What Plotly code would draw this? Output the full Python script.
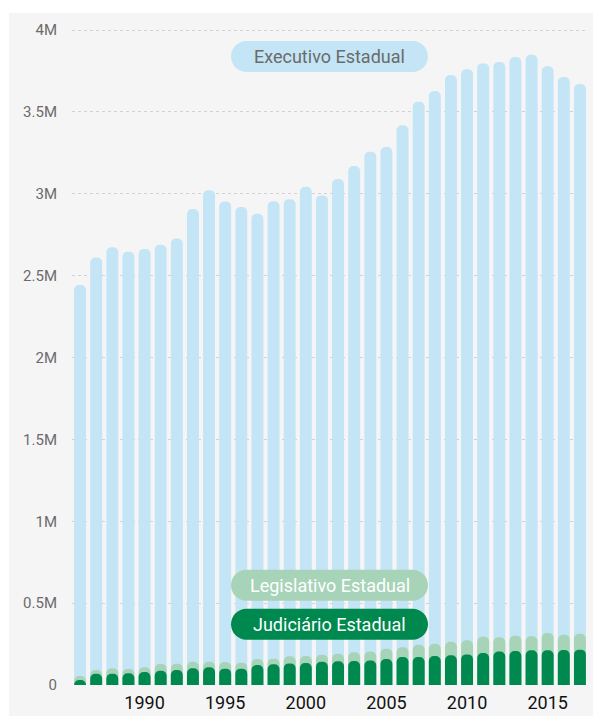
import plotly.graph_objects as go

years = list(range(1986, 2018))
executivo = [2.443, 2.610, 2.673, 2.646, 2.663, 2.689, 2.726, 2.907, 3.021, 2.952,
             2.919, 2.878, 2.954, 2.966, 3.042, 2.990, 3.090, 3.169, 3.257, 3.285,
             3.418, 3.562, 3.627, 3.725, 3.760, 3.796, 3.805, 3.835, 3.849, 3.778,
             3.713, 3.670]
legislativo = [0.055, 0.092, 0.102, 0.098, 0.108, 0.128, 0.130, 0.142, 0.142, 0.140,
               0.136, 0.159, 0.161, 0.175, 0.177, 0.185, 0.191, 0.200, 0.204, 0.222,
               0.230, 0.246, 0.252, 0.264, 0.273, 0.295, 0.291, 0.301, 0.297, 0.318,
               0.307, 0.313]
judiciario = [0.031, 0.069, 0.069, 0.071, 0.079, 0.087, 0.092, 0.102, 0.108, 0.100,
              0.100, 0.122, 0.126, 0.132, 0.134, 0.142, 0.145, 0.147, 0.149, 0.159,
              0.171, 0.171, 0.177, 0.181, 0.187, 0.195, 0.205, 0.208, 0.212, 0.212,
              0.214, 0.216]

series_names = ["Executivo Estadual", "Legislativo Estadual", "Judiciário Estadual"]
series_colors = ["#c3e5f5", "#a7d4b9", "#00894f"]
label_text_colors = ["#6b6b6b", "#ffffff", "#ffffff"]

y_tickvals = [0, 0.5e6, 1e6, 1.5e6, 2e6, 2.5e6, 3e6, 3.5e6, 4e6]
y_ticktext = ["0", "0.5M", "1M", "1.5M", "2M", "2.5M", "3M", "3.5M", "4M"]
x_tickvals = [1990, 1995, 2000, 2005, 2010, 2015]

FONT = "Roboto"
XRANGE = [1985.5, 2017.5]

fig = go.Figure()
# each series on its own overlaid x axis so every bar gets its own rounded top
axis_ids = ["x", "x2", "x3"]
for name, vals, col, xa in zip(series_names, [executivo, legislativo, judiciario],
                               series_colors, axis_ids):
    fig.add_trace(go.Bar(
        x=years, y=[v * 1e6 for v in vals], name=name, xaxis=xa, yaxis="y",
        marker=dict(color=col, line=dict(width=0), cornerradius="50%"),
        width=0.74, hoverinfo="x+y",
    ))

# page body has an 8px margin, so the figure is offset by 8px
OFF = 8
W, H = 601 - OFF, 716 - OFF
EXTRA = 3  # px of headroom above the 4M gridline
L, T = 72 - OFF, 30 - OFF - EXTRA
plot_right, plot_bottom = 588 - OFF, 685 - OFF
R, B = W - plot_right, H - plot_bottom
pw, ph = plot_right - L, plot_bottom - T
YMAX = 4e6 * ph / (ph - EXTRA)

shapes = [dict(type="rect", xref="paper", yref="paper",
               x0=(9 - OFF - L) / pw, x1=(W + 5 - L) / pw,
               y0=-(B + 5) / ph, y1=(plot_bottom - (13 - OFF)) / ph,
               fillcolor="#f5f5f5", line=dict(width=0), layer="below")]

# pill labels
hw, r = 98.5, 15.5
k = 0.5523 * r
c = hw - r
pill = (f"M {-c},{-r} L {c},{-r} C {c + k},{-r} {hw},{-k} {hw},0 "
        f"C {hw},{k} {c + k},{r} {c},{r} L {-c},{r} "
        f"C {-c - k},{r} {-hw},{k} {-hw},0 C {-hw},{-k} {-c - k},{-r} {-c},{-r} Z")

pill_centers_px = [56.5, 585.3, 624.3]
pill_cx = (329.5 - OFF - L) / pw
annotations = []
for name, col, tcol, cy in zip(series_names, series_colors, label_text_colors, pill_centers_px):
    yf = (plot_bottom - (cy - OFF)) / ph
    shapes.append(dict(type="path", xref="paper", yref="paper",
                       xsizemode="pixel", ysizemode="pixel",
                       xanchor=pill_cx, yanchor=yf, path=pill,
                       fillcolor=col, line=dict(width=0), layer="above"))
    annotations.append(dict(xref="paper", yref="paper", x=pill_cx, y=yf,
                            text=name, showarrow=False, xanchor="center", yanchor="middle",
                            font=dict(family=FONT, size=18, color=tcol)))

hidden_x = dict(range=XRANGE, overlaying="x", matches="x", visible=False,
                showgrid=False, zeroline=False, automargin=False)

fig.update_layout(
    width=W, height=H,
    margin=dict(l=L, r=R, t=T, b=B, pad=0, autoexpand=False),
    paper_bgcolor="#ffffff", plot_bgcolor="#f5f5f5",
    barmode="overlay", showlegend=False,
    font=dict(family=FONT),
    shapes=shapes, annotations=annotations,
    xaxis=dict(range=XRANGE, tickvals=x_tickvals, showgrid=False,
               zeroline=False, showline=False, ticks="", automargin=False,
               tickfont=dict(family=FONT, size=18, color="#111111"),
               ticklabelstandoff=5),
    xaxis2=hidden_x,
    xaxis3=hidden_x,
    yaxis=dict(range=[0, YMAX], tickvals=y_tickvals, ticktext=y_ticktext,
               showgrid=True, gridcolor="#d2d2d2", griddash="dot", gridwidth=1,
               zeroline=False, showline=False, ticks="", automargin=False,
               tickfont=dict(family=FONT, size=15, color="#6b6b6b"),
               ticklabelstandoff=14),
)

fig.write_html("out.html")
